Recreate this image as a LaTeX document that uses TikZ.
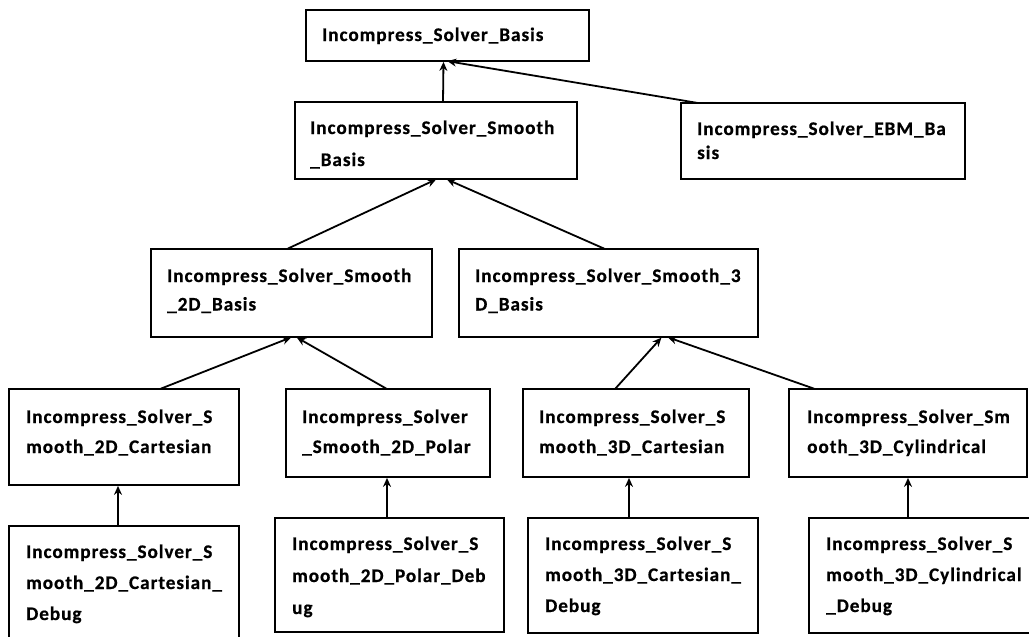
\documentclass[tikz,border=0pt]{standalone}
\usepackage{fontspec}
\setmainfont{Carlito}
\newfontfamily\boxfont[LetterSpace=5.0,FakeBold=0.6]{Carlito}
\usetikzlibrary{arrows.meta,calc}
\newcommand{\lns}[2]{\fontsize{19.2}{#1}\selectfont\begin{tabular}[t]{@{}l@{}}#2\end{tabular}}
\tikzset{
  boxn/.style={draw=black,line width=1.8pt,inner sep=0pt,outer sep=0pt,anchor=north west},
  txt/.style={inner sep=0pt,anchor=base west,font=\boxfont\bfseries,text=black},
  arr/.style={draw=black,line width=1.8pt,-{Stealth[length=9pt,width=8pt]},shorten >=0.9pt,shorten <=0.9pt}
}
\newcommand{\mkbox}[5]{\node[boxn,minimum width={(#4-#2)*1pt},minimum height={(#5-#3)*1pt}] (#1) at (#2,#3) {};}
\begin{document}
\begin{tikzpicture}[x=1pt,y=-1pt]
\useasboundingbox (0,0) rectangle (1029,637);
\clip (0,0) rectangle (1029,637);
\fill[white] (0,0) rectangle (1029,637);
% boxes
\mkbox{b1}{306}{10}{589}{61}
\mkbox{b2}{295}{102}{577}{179}
\mkbox{b3}{681}{103}{965}{179}
\mkbox{b4}{151}{249}{432}{337}
\mkbox{b5}{459}{249}{758}{337}
\mkbox{b6}{9}{389}{239}{485}
\mkbox{b7}{286}{389}{490}{477}
\mkbox{b8}{523}{389}{749}{477}
\mkbox{b9}{789}{389}{1027}{477}
\mkbox{b10}{9}{526}{239}{660}
\mkbox{b11}{275}{518}{504}{632}
\mkbox{b12}{528}{518}{758}{633}
\mkbox{b13}{809}{518}{1045}{633}
% texts
\node[txt] (t1) at ($(b1.north west)+(16,31)$) {\lns{31}{Incompress\_Solver\_Basis}};
\node[txt] (t2) at ($(b2.north west)+(15,32)$) {\lns{32}{Incompress\_Solver\_Smooth\\\_Basis}};
\node[txt] (t3) at ($(b3.north west)+(16,32)$) {\lns{24}{Incompress\_Solver\_EBM\_Ba\\sis}};
\node[txt] (t4) at ($(b4.north west)+(16,33)$) {\lns{28.5}{Incompress\_Solver\_Smooth\\\_2D\_Basis}};
\node[txt] (t5) at ($(b5.north west)+(16,33)$) {\lns{28.5}{Incompress\_Solver\_Smooth\_3\\D\_Basis}};
\node[txt] (t6) at ($(b6.north west)+(17,34)$) {\lns{30}{Incompress\_Solver\_S\\mooth\_2D\_Cartesian}};
\node[txt] (t7) at ($(b7.north west)+(16,34)$) {\lns{30}{Incompress\_Solver\\\_Smooth\_2D\_Polar}};
\node[txt] (t8) at ($(b8.north west)+(16,34)$) {\lns{30}{Incompress\_Solver\_S\\mooth\_3D\_Cartesian}};
\node[txt] (t9) at ($(b9.north west)+(18,34)$) {\lns{30}{Incompress\_Solver\_Sm\\ooth\_3D\_Cylindrical}};
\node[txt] (t10) at ($(b10.north west)+(17,32)$) {\lns{31}{Incompress\_Solver\_S\\mooth\_2D\_Cartesian\_\\Debug}};
\node[txt] (t11) at ($(b11.north west)+(17,32)$) {\lns{32}{Incompress\_Solver\_S\\mooth\_2D\_Polar\_Deb\\ug}};
\node[txt] (t12) at ($(b12.north west)+(17,32)$) {\lns{31}{Incompress\_Solver\_S\\mooth\_3D\_Cartesian\_\\Debug}};
\node[txt] (t13) at ($(b13.north west)+(17,32)$) {\lns{31}{Incompress\_Solver\_S\\mooth\_3D\_Cylindrical\\\_Debug}};
% connectors
\draw[arr] ([xshift=7pt]b2.north) -- ([xshift=-4pt]b1.south);
\draw[arr] ([xshift=17pt]b3.north west) -- ([xshift=-1pt]b1.south);
\draw[arr] ([xshift=-4.5pt]b4.north) -- ([xshift=1pt]b2.south);
\draw[arr] ([xshift=-3.5pt]b5.north) -- ([xshift=10pt]b2.south);
\draw[arr] ([xshift=36pt]b6.north) -- ([xshift=0.5pt]b4.south);
\draw[arr] ([xshift=-1pt]b7.north) -- ([xshift=4.5pt]b4.south);
\draw[arr] ([xshift=-21pt]b8.north) -- ([xshift=53.5pt]b5.south);
\draw[arr] ([xshift=-93pt]b9.north) -- ([xshift=58.5pt]b5.south);
\draw[arr] ([xshift=-6pt]b10.north) -- ([xshift=-6pt]b6.south);
\draw[arr] ([xshift=-2.5pt]b11.north) -- ([xshift=-1pt]b7.south);
\draw[arr] ([xshift=-14pt]b12.north) -- ([xshift=-7pt]b8.south);
\draw[arr] ([xshift=99pt]b13.north west) -- ([xshift=0pt]b9.south);
\end{tikzpicture}
\end{document}
